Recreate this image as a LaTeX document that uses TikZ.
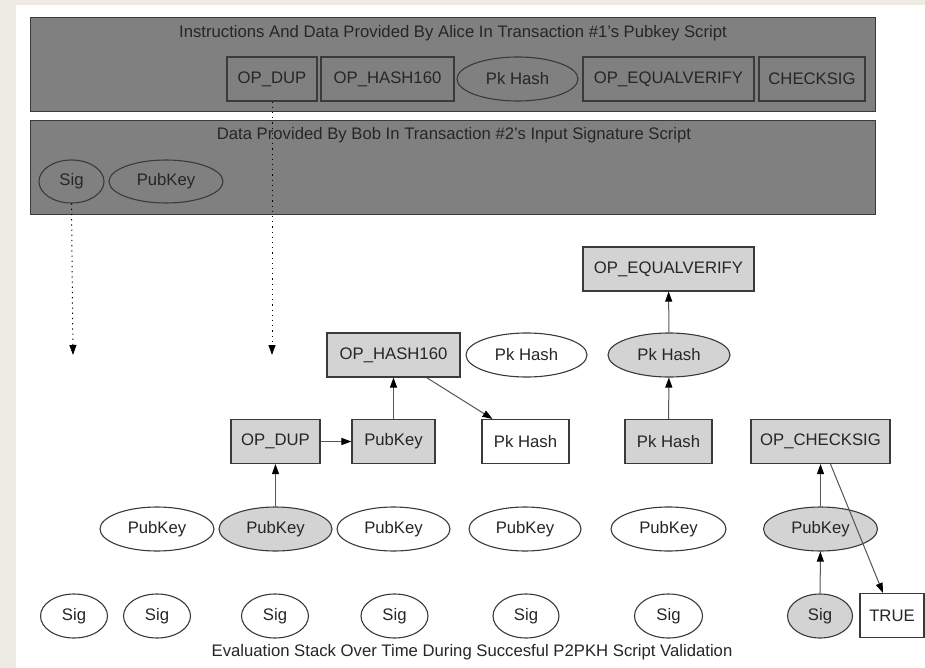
\documentclass[tikz,border=0pt]{standalone}
\usepackage{fontspec}
\setmainfont{Liberation Sans}
\usetikzlibrary{shapes.geometric,arrows.meta}
\definecolor{paper}{HTML}{EEECE2}
\definecolor{panel}{HTML}{808080}
\definecolor{edge}{HTML}{3A3A3A}
\definecolor{soft}{HTML}{D3D3D3}
\definecolor{ink}{HTML}{262626}
\definecolor{shaft}{HTML}{555555}

\begin{document}
\begin{tikzpicture}[x=1pt,y=-1pt,
  every node/.style={font=\fontsize{16.7}{19}\selectfont, text=ink, inner sep=0pt},
  rbox/.style={rectangle, draw=edge, line width=1.1pt, minimum height=44},
  oval/.style={ellipse, draw=edge, line width=1.1pt, minimum height=44},
  lit/.style={fill=soft},
  blank/.style={fill=white},
  flow/.style={draw=shaft, line width=1pt, -{Triangle[length=10pt,width=7pt,color=black]}},
  trace/.style={draw=black, line width=1pt, dash pattern=on 1.2pt off 4pt,
                -{Triangle[length=10pt,width=7pt,color=black]}},
  stage/.style={rectangle, draw=edge, fill=panel, line width=1.3pt, anchor=north west,
                minimum width=845, minimum height=94}
]
% page and canvas
\useasboundingbox (0,0) rectangle (925,668);
\fill[paper] (0,0) rectangle (925,668);
\fill[white] (16,5) rectangle (925,668);

% script panels
\node[stage] (alice) at (30,17) {};
\node (alicetitle) at (453,33) {Instructions And Data Provided By Alice In Transaction \#1's Pubkey Script};
\node[rbox] (adup)  at (272,79)   [minimum width=90]  {OP\_DUP};
\node[rbox] (ahash) at (387.5,79) [minimum width=133] {OP\_HASH160};
\node[oval] (apk)   at (517.5,79) [minimum width=121] {Pk Hash};
\node[rbox] (aeqv)  at (668.5,79) [minimum width=171] {OP\_EQUALVERIFY};
\node[rbox] (achk)  at (812,79)   [minimum width=106] {CHECKSIG};

\node[stage] (bob) at (30,120) {};
\node (bobtitle) at (454,135) {Data Provided By Bob In Transaction \#2's Input Signature Script};
\node[oval] (bsig) at (71.5,181.5) [minimum width=65, minimum height=43] {Sig};
\node[oval] (bpub) at (166,181.5)  [minimum width=114, minimum height=43] {PubKey};

% evaluation stack, column by column
\node[oval, blank] (s1) at (74,616) [minimum width=67] {Sig};

\node[oval, blank] (p2) at (157,529) [minimum width=114] {PubKey};
\node[oval, blank] (s2) at (157,616) [minimum width=67] {Sig};

\node[rbox, lit]   (dup) at (275.5,441.5) [minimum width=89] {OP\_DUP};
\node[oval, lit]   (p3)  at (275.5,529)   [minimum width=113] {PubKey};
\node[oval, blank] (s3)  at (275,616)     [minimum width=67] {Sig};

\node[rbox, lit]   (h4)  at (393.5,355)   [minimum width=133] {OP\_HASH160};
\node[rbox, lit]   (k4)  at (393.5,441.5) [minimum width=83] {PubKey};
\node[oval, blank] (p4)  at (393.5,529)   [minimum width=113] {PubKey};
\node[oval, blank] (s4)  at (394.5,616)   [minimum width=67] {Sig};

\node[oval, blank] (e5)  at (526.5,355)   [minimum width=121] {Pk Hash};
\node[rbox, blank] (k5)  at (525.5,441.5) [minimum width=87] {Pk Hash};
\node[oval, blank] (p5)  at (525,529)     [minimum width=112] {PubKey};
\node[oval, blank] (s5)  at (526,616)     [minimum width=66] {Sig};

\node[rbox, lit]   (v6)  at (668.5,269)   [minimum width=171] {OP\_EQUALVERIFY};
\node[oval, lit]   (e6)  at (669,355)     [minimum width=122] {Pk Hash};
\node[rbox, lit]   (k6)  at (668.5,441.5) [minimum width=87] {Pk Hash};
\node[oval, blank] (p6)  at (668.5,529)   [minimum width=115] {PubKey};
\node[oval, blank] (s6)  at (668.5,616)   [minimum width=68] {Sig};

\node[rbox, lit]   (c7)  at (820.5,441.5) [minimum width=139] {OP\_CHECKSIG};
\node[oval, lit]   (p7)  at (820.5,529)   [minimum width=114] {PubKey};
\node[oval, lit]   (s7)  at (820,616)     [minimum width=65] {Sig};
\node[rbox, blank] (ok)  at (892,615.5)   [minimum width=64] {TRUE};

% items pushed onto the stack
\coordinate (drop1) at (73,355);
\coordinate (drop2) at (272,355);
\draw[trace] (bsig.south) -- (drop1);
\draw[trace] (adup.south) -- (drop2);

% operations
\draw[flow] (p3) -- (dup);
\draw[flow] (dup) -- (k4);
\draw[flow] (k4) -- (h4);
\draw[flow] ([xshift=33]h4.south) -- ([xshift=-33]k5.north);
\draw[flow] (k6) -- (e6);
\draw[flow] (e6) -- (v6);
\draw[flow] (s7) -- (p7);
\draw[flow] (p7) -- (c7);
\draw[flow] ([xshift=10]c7.south) -- ([xshift=-9]ok.north);

\node (caption) at (472,652) {Evaluation Stack Over Time During Succesful P2PKH Script Validation};
\end{tikzpicture}
\end{document}
